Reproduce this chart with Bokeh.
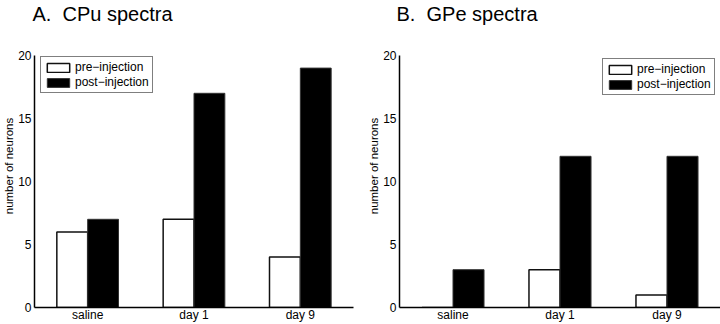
from bokeh.plotting import figure
from bokeh.layouts import row
from bokeh.models import ColumnDataSource, Legend, LegendItem
from bokeh.transform import dodge
from bokeh.embed import file_html
from bokeh.resources import INLINE

conditions = ["saline", "day 1", "day 9"]
series_names = ["pre\u2212injection", "post\u2212injection"]
cpu_pre = [6, 7, 4]
cpu_post = [7, 17, 19]
gpe_pre = [0, 3, 1]
gpe_post = [3, 12, 12]
y_ticks = [0, 5, 10, 15, 20]
titles = ["A.\u00a0 CPu spectra", "B.\u00a0 GPe spectra"]
y_max = 20

FONT = "Liberation Sans"
HEIGHT = 324
FRAME_TOP = 24       # canvas px where the plot frame starts (title sits above)
AXIS_TOP = 55        # canvas px where the value y_max must land
AXIS_BOTTOM = 307    # canvas px of the x axis line
# extend the range so that y_max lands at AXIS_TOP while the frame starts higher
y_end = y_max * (AXIS_BOTTOM - FRAME_TOP) / (AXIS_BOTTOM - AXIS_TOP)


def panel(title, pre, post, legend_xy, left, right, title_dx):
    src = ColumnDataSource(dict(cond=conditions, pre=pre, post=post))
    p = figure(x_range=conditions, y_range=(0, y_end), width=360, height=HEIGHT,
               output_backend="svg", toolbar_location=None, title=title,
               min_border_left=left, min_border_right=right,
               min_border_top=FRAME_TOP, min_border_bottom=0)
    p.x_range.range_padding = 0
    p.title.text_font = FONT
    p.title.text_font_size = "20px"
    p.title.text_font_style = "normal"
    p.title.text_color = "black"
    p.title.standoff = 0
    p.title.offset = title_dx
    p.title.vertical_align = "bottom"
    r1 = p.vbar(x=dodge("cond", -0.145, range=p.x_range), top="pre", width=0.29,
                source=src, fill_color="white", line_color="#111111", line_width=1.5)
    r2 = p.vbar(x=dodge("cond", 0.145, range=p.x_range), top="post", width=0.29,
                source=src, fill_color="black", line_color="#333333", line_width=1)
    p.outline_line_color = None
    p.grid.grid_line_color = None
    p.background_fill_color = "white"
    p.border_fill_color = "white"
    for ax in (p.xaxis, p.yaxis):
        ax.axis_line_color = "black"
        ax.axis_line_width = 1.5
        ax.major_tick_line_color = None
        ax.minor_tick_line_color = None
        ax.major_tick_out = 0
        ax.major_tick_in = 0
        ax.minor_tick_out = 0
        ax.minor_tick_in = 0
        ax.major_label_text_font = FONT
        ax.major_label_text_font_size = "12px"
        ax.major_label_text_color = "black"
    p.yaxis.ticker = y_ticks
    p.yaxis.bounds = (0, y_max)
    p.yaxis.major_label_standoff = 3
    p.xaxis.major_label_standoff = 0
    p.yaxis.axis_label = "number of neurons"
    p.yaxis.axis_label_text_font = FONT
    p.yaxis.axis_label_text_font_size = "11.5px"
    p.yaxis.axis_label_text_font_style = "normal"
    p.yaxis.axis_label_text_color = "black"
    p.yaxis.axis_label_standoff = 0
    leg = Legend(items=[LegendItem(label=series_names[0], renderers=[r1]),
                        LegendItem(label=series_names[1], renderers=[r2])],
                 location=legend_xy)
    leg.border_line_color = "black"
    leg.border_line_width = 1.5
    leg.background_fill_alpha = 1
    leg.label_text_font = FONT
    leg.label_text_font_size = "12px"
    leg.label_text_color = "black"
    leg.glyph_width = 28
    leg.glyph_height = 11
    leg.label_height = 11
    leg.spacing = 1
    leg.padding = 3
    leg.label_standoff = 3
    leg.margin = 0
    p.add_layout(leg)
    return p


pa = panel(titles[0], cpu_pre, cpu_post, (6, 214), 34, 7, -2)
pb = panel(titles[1], gpe_pre, gpe_post, (203, 212), 39, 0, -3)
layout = row(pa, pb)
open("out.html", "w").write(file_html(layout, INLINE))
